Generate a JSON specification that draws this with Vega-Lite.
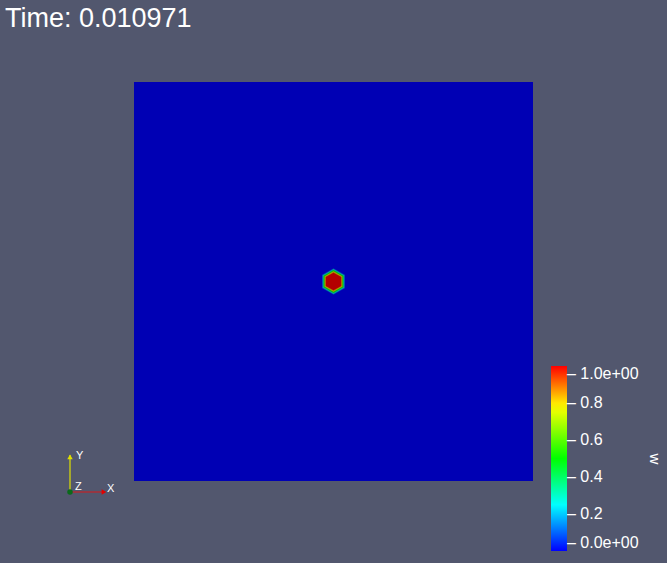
{
  "$schema": "https://vega.github.io/schema/vega-lite/v6.json",
  "width": 399,
  "height": 399,
  "autosize": {"type": "none"},
  "padding": {"left": 134, "top": 82, "right": 134, "bottom": 82},
  "background": "#52576e",
  "config": {"view": {"stroke": null}},
  "title": {
    "text": "Time: 0.010971",
    "anchor": "start",
    "frame": "group",
    "color": "#ffffff",
    "font": "Liberation Sans",
    "fontSize": 27,
    "fontWeight": "normal",
    "baseline": "alphabetic",
    "offset": 28,
    "dx": -129
  },
  "resolve": {"scale": {"color": "independent", "size": "independent", "shape": "independent"}},
  "layer": [
    {
      "data": {"values": [{"x": 0, "x2": 1, "y": 0, "y2": 1, "w": 0}]},
      "mark": {"type": "rect"},
      "encoding": {
        "x": {"field": "x", "type": "quantitative", "scale": {"domain": [0, 1], "nice": false, "zero": false}, "axis": null},
        "x2": {"field": "x2"},
        "y": {"field": "y", "type": "quantitative", "scale": {"domain": [0, 1], "nice": false, "zero": false}, "axis": null},
        "y2": {"field": "y2"},
        "color": {"field": "w", "type": "quantitative", "legend": null,
          "scale": {"domain": [0, 0.25, 0.5, 0.78, 1], "range": ["#0000b4", "#00b4b4", "#00b400", "#b4b400", "#b40000"], "interpolate": "rgb"}}
      }
    },
    {
      "data": {"values": [
        {"x": 0.5, "y": 0.5, "r": 0.0333, "w": 0.06},
        {"x": 0.5, "y": 0.5, "r": 0.0320, "w": 0.16},
        {"x": 0.5, "y": 0.5, "r": 0.0306, "w": 0.27},
        {"x": 0.5, "y": 0.5, "r": 0.0292, "w": 0.4},
        {"x": 0.5, "y": 0.5, "r": 0.0278, "w": 0.52},
        {"x": 0.5, "y": 0.5, "r": 0.0264, "w": 0.64},
        {"x": 0.5, "y": 0.5, "r": 0.0250, "w": 0.76},
        {"x": 0.5, "y": 0.5, "r": 0.0236, "w": 0.87},
        {"x": 0.5, "y": 0.5, "r": 0.0222, "w": 1.0}
      ]},
      "mark": {"type": "point", "filled": true, "opacity": 1, "strokeWidth": 0,
        "shape": "M0,-1L0.866,-0.5L0.866,0.5L0,1L-0.866,0.5L-0.866,-0.5Z"},
      "encoding": {
        "x": {"field": "x", "type": "quantitative"},
        "y": {"field": "y", "type": "quantitative"},
        "size": {"field": "r", "type": "quantitative", "legend": null,
          "scale": {"type": "pow", "exponent": 2, "domain": [0, 1], "range": [0, 636804]}},
        "color": {"field": "w", "type": "quantitative", "legend": null,
          "scale": {"domain": [0, 0.25, 0.5, 0.78, 1], "range": ["#0000b4", "#00b4b4", "#00b400", "#b4b400", "#b40000"], "interpolate": "rgb"}}
      }
    },
    {
      "data": {"values": [{"w": 0}, {"w": 0.2}, {"w": 0.4}, {"w": 0.6}, {"w": 0.8}, {"w": 1}]},
      "mark": {"type": "point", "opacity": 0},
      "encoding": {
        "color": {"field": "w", "type": "quantitative",
          "scale": {"domain": [0, 0.25, 0.5, 0.78, 1], "range": ["#0000ff", "#00ffff", "#00ff00", "#ffff00", "#ff0000"], "interpolate": "rgb"},
          "legend": {
            "orient": "none",
            "legendX": 417,
            "legendY": 284,
            "direction": "vertical",
            "gradientLength": 185,
            "gradientThickness": 16,
            "gradientStrokeWidth": 0,
            "values": [0, 0.2, 0.4, 0.6, 0.8, 1],
            "labelExpr": "datum.value == 1 ? '– 1.0e+00' : datum.value == 0 ? '– 0.0e+00' : '– ' + format(datum.value, '.1f')",
            "labelColor": "#ffffff",
            "labelFont": "Liberation Sans",
            "labelFontSize": 16,
            "labelOffset": 0,
            "labelBaseline": "middle",
            "labelOverlap": false,
            "title": "w",
            "titleOrient": "right",
            "titlePadding": 8,
            "titleColor": "#ffffff",
            "titleFont": "Liberation Sans",
            "titleFontSize": 15,
            "titleFontWeight": "normal",
            "padding": 0
          }
        }
      }
    },
    {
      "data": {"values": [
        {"x": -0.1604, "y": -0.0276, "x2": -0.1604, "y2": 0.0652, "axis": "Y"},
        {"x": -0.1604, "y": -0.0276, "x2": -0.0727, "y2": -0.0276, "axis": "X"}
      ]},
      "mark": {"type": "rule", "strokeWidth": 1.2},
      "encoding": {
        "x": {"field": "x", "type": "quantitative"},
        "y": {"field": "y", "type": "quantitative"},
        "x2": {"field": "x2"},
        "y2": {"field": "y2"},
        "color": {"field": "axis", "type": "nominal", "legend": null,
          "scale": {"domain": ["X", "Y"], "range": ["#d81818", "#e0e000"]}}
      }
    },
    {
      "data": {"values": [
        {"x": -0.1604, "y": 0.0602, "part": "Y"},
        {"x": -0.0752, "y": -0.0276, "part": "X"},
        {"x": -0.1604, "y": -0.0276, "part": "Z"}
      ]},
      "mark": {"type": "point", "filled": true, "opacity": 1, "size": 30},
      "encoding": {
        "x": {"field": "x", "type": "quantitative"},
        "y": {"field": "y", "type": "quantitative"},
        "shape": {"field": "part", "type": "nominal", "legend": null,
          "scale": {"domain": ["X", "Y", "Z"], "range": ["triangle-right", "triangle-up", "circle"]}},
        "color": {"field": "part", "type": "nominal", "legend": null,
          "scale": {"domain": ["X", "Y", "Z"], "range": ["#e00000", "#e0e000", "#0a6a1a"]}}
      }
    },
    {
      "data": {"values": [
        {"x": -0.1454, "y": 0.0627, "label": "Y"},
        {"x": -0.0677, "y": -0.0200, "label": "X"},
        {"x": -0.1479, "y": -0.0150, "label": "Z"}
      ]},
      "mark": {"type": "text", "color": "#ffffff", "fontSize": 11, "font": "Liberation Sans", "align": "left", "baseline": "middle"},
      "encoding": {
        "x": {"field": "x", "type": "quantitative"},
        "y": {"field": "y", "type": "quantitative"},
        "text": {"field": "label"}
      }
    }
  ]
}
